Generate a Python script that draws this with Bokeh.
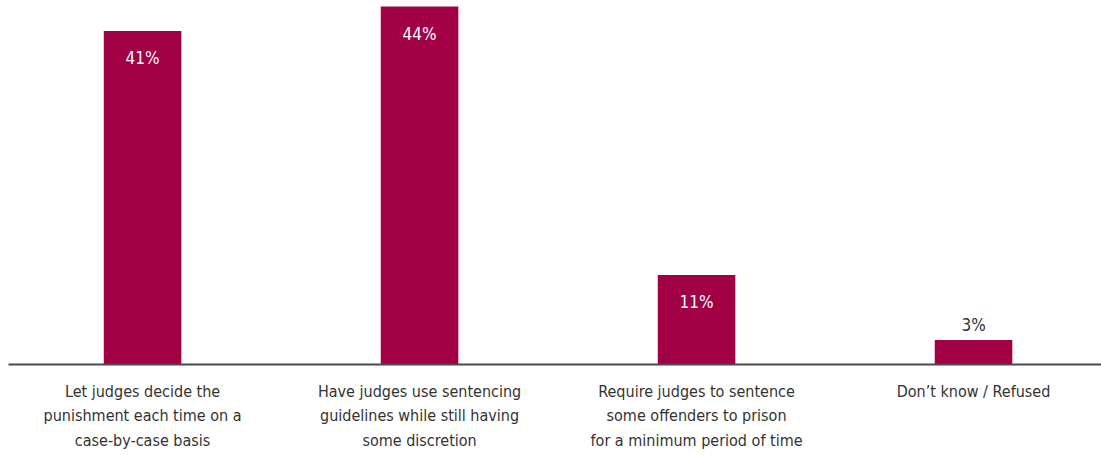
from bokeh.plotting import figure
from bokeh.models import ColumnDataSource, FixedTicker, Range1d
from bokeh.core.properties import value
from bokeh.embed import file_html
from bokeh.resources import INLINE

categories = [
    "Let judges decide the\npunishment each time on a\ncase-by-case basis",
    "Have judges use sentencing\nguidelines while still having\nsome discretion",
    "Require judges to sentence\nsome offenders to prison\nfor a minimum period of time",
    "Don\u2019t know / Refused",
]
values = [41, 44, 11, 3]
labels = ["41%", "44%", "11%", "3%"]

FONT = "DejaVu Sans Condensed"
BAR = "#A10045"
DARK = "#333333"

xs = list(range(len(categories)))
src = ColumnDataSource(dict(x=xs, top=values, label=labels))

inside = [i for i, v in enumerate(values) if v >= 6]
outside = [i for i, v in enumerate(values) if v < 6]
src_in = ColumnDataSource(dict(x=[xs[i] for i in inside], y=[values[i] for i in inside],
                               label=[labels[i] for i in inside]))
src_out = ColumnDataSource(dict(x=[xs[i] for i in outside], y=[values[i] for i in outside],
                                label=[labels[i] for i in outside]))

p = figure(width=1101, height=455, output_backend="svg", toolbar_location=None,
           x_range=Range1d(-0.484, 3.462), y_range=Range1d(0, 44.74),
           min_border_left=8, min_border_right=0, min_border_top=0, min_border_bottom=91)

p.vbar(x="x", top="top", width=0.28, bottom=0, source=src, fill_color=BAR, line_color=None)

p.text(x="x", y="y", text="label", source=src_in, text_align="center", text_baseline="middle",
       y_offset=27, text_color="white", text_font=value(FONT), text_font_size="17px")
p.text(x="x", y="y", text="label", source=src_out, text_align="center", text_baseline="middle",
       y_offset=-15, text_color=DARK, text_font=value(FONT), text_font_size="17px")

p.yaxis.visible = False
p.xgrid.grid_line_color = None
p.ygrid.grid_line_color = None
p.outline_line_color = None

ax = p.xaxis[0]
ax.ticker = FixedTicker(ticks=xs)
ax.major_label_overrides = {i: c for i, c in zip(xs, categories)}
ax.major_tick_line_color = None
ax.minor_tick_line_color = None
ax.major_tick_out = 0
ax.major_tick_in = 0
ax.axis_line_color = "#4a4a4a"
ax.axis_line_width = 2
ax.major_label_standoff = 17
ax.major_label_text_font = FONT
ax.major_label_text_font_size = "16px"
ax.major_label_text_color = DARK
ax.major_label_text_align = "center"
ax.major_label_text_line_height = 1.29

open("out.html", "w").write(file_html(p, INLINE))
